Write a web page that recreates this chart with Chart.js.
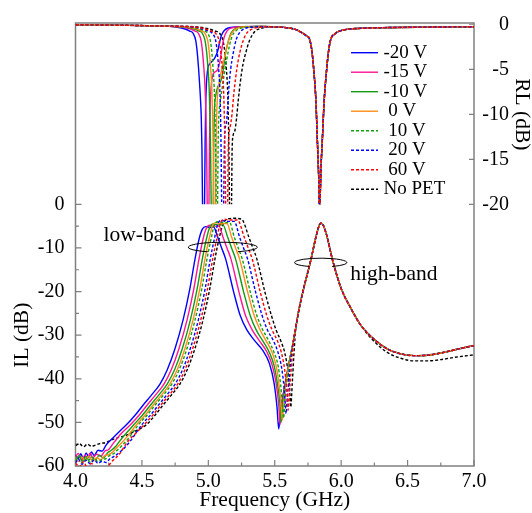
<!DOCTYPE html>
<html>
<head>
<meta charset="utf-8">
<script src="https://cdn.jsdelivr.net/npm/chart.js@4.4.0/dist/chart.umd.min.js"></script>
<style>
  body { margin: 0; background: #fff; }
  #chart { display: block; }
</style>
</head>
<body>
<canvas id="chart" width="532" height="513"></canvas>
<script>
// ---- tick labels ----
const freqTicks = [4.0, 4.5, 5.0, 5.5, 6.0, 6.5, 7.0];
const freqMinorTicks = [4.25, 4.75, 5.25, 5.75, 6.25, 6.75];
const ilTicks = [0, -10, -20, -30, -40, -50, -60];
const ilMinorTicks = [-5, -15, -25, -35, -45, -55];
const rlTicks = [0, -5, -10, -15, -20];

const seriesLabels = ['-20 V', '-15 V', '-10 V', ' 0 V', ' 10 V', ' 20 V', ' 60 V', 'No PET'];

// ---- IL (dB), low band part, one pair per bias ----
const ilM20Freq = [4.00,4.02,4.04,4.06,4.08,4.10,4.12,4.14,4.17,4.20,4.23,4.26,4.30,4.34,4.385,4.45,4.51,4.57,4.636,4.69,4.75,4.81,4.86,4.90,4.93,4.955,4.98,5.01,5.04,5.07,5.10,5.13,5.19,5.24,5.29,5.35,5.41,5.46,5.495,5.517,5.53,5.545,5.57,5.60];
const ilM20 = [-57.4,-58.3,-57.2,-58.4,-57.0,-58.0,-56.8,-57.6,-56.4,-56.6,-55.2,-54.2,-53.0,-51.8,-50.5,-48.3,-46,-43.8,-41.2,-38,-33,-26.5,-19.5,-12.5,-8,-5.7,-5.1,-5.3,-5.2,-7.5,-10,-12.5,-20,-25.5,-28.8,-31.3,-33.5,-36.5,-41,-46.5,-51.5,-47,-42.5,-37.5];

const ilM15Freq = [4.00,4.02,4.05,4.07,4.09,4.11,4.13,4.16,4.19,4.22,4.25,4.28,4.31,4.35,4.415,4.48,4.54,4.60,4.666,4.72,4.78,4.84,4.89,4.93,4.96,4.985,5.01,5.045,5.08,5.11,5.14,5.17,5.23,5.28,5.33,5.385,5.44,5.48,5.51,5.53,5.54,5.555,5.58,5.61];
const ilM15 = [-58.0,-57.1,-58.6,-57.5,-58.2,-57.0,-58.1,-57.3,-57.8,-56.6,-56.2,-55.0,-53.8,-52.4,-50.5,-48.3,-46,-43.8,-41.2,-38,-33,-26.5,-19.5,-12.5,-8,-5.5,-4.8,-5.0,-5.0,-7.5,-10,-12.5,-20,-25.5,-28.8,-31.3,-33.8,-36.8,-41,-46,-50.5,-46,-41,-36];

const ilM10Freq = [4.00,4.03,4.05,4.08,4.10,4.12,4.15,4.18,4.21,4.24,4.27,4.30,4.33,4.37,4.44,4.505,4.565,4.625,4.69,4.745,4.805,4.865,4.915,4.955,4.985,5.01,5.035,5.07,5.11,5.145,5.175,5.205,5.265,5.315,5.36,5.41,5.46,5.495,5.522,5.54,5.548,5.562,5.585,5.612];
const ilM10 = [-58.5,-57.6,-58.9,-57.8,-58.7,-57.9,-58.6,-57.5,-58.2,-57.0,-56.4,-55.6,-54.4,-52.9,-50.5,-48.3,-46,-43.8,-41.2,-38,-33,-26.5,-19.5,-12.5,-8,-5.3,-4.5,-4.7,-4.7,-7.5,-10,-12.5,-20,-25.5,-28.8,-31.3,-34,-37,-41.5,-46,-50,-45.5,-40.5,-35.7];

const il0Freq = [4.00,4.02,4.05,4.07,4.10,4.13,4.16,4.19,4.22,4.25,4.28,4.31,4.35,4.39,4.46,4.525,4.585,4.645,4.71,4.765,4.825,4.885,4.935,4.975,5.005,5.03,5.055,5.095,5.14,5.175,5.205,5.235,5.295,5.345,5.39,5.435,5.48,5.51,5.533,5.548,5.556,5.57,5.59,5.615];
const il0 = [-58.2,-59.0,-58.0,-58.8,-57.7,-58.9,-58.1,-58.6,-57.6,-57.4,-56.8,-55.8,-54.6,-53.2,-50.5,-48.3,-46,-43.8,-41.2,-38,-33,-26.5,-19.5,-12.5,-8,-5.0,-4.2,-4.4,-4.4,-7.5,-10,-12.5,-20,-25.5,-28.8,-31.3,-34,-37,-41.5,-46,-49.5,-45,-40,-35.5];

const il10Freq = [4.00,4.03,4.05,4.08,4.11,4.14,4.17,4.20,4.23,4.26,4.29,4.32,4.36,4.40,4.475,4.54,4.60,4.66,4.725,4.78,4.84,4.90,4.95,4.99,5.02,5.045,5.07,5.11,5.16,5.195,5.225,5.255,5.315,5.365,5.41,5.455,5.495,5.525,5.545,5.558,5.566,5.578,5.595,5.618];
const il10 = [-58.8,-58.0,-59.3,-58.4,-59.1,-58.2,-59.0,-58.5,-58.3,-57.5,-57.1,-56.2,-55.0,-53.6,-50.5,-48.3,-46,-43.8,-41.2,-38,-33,-26.5,-19.5,-12.5,-8,-4.8,-4.0,-4.2,-4.2,-7.5,-10,-12.5,-20,-25.5,-28.8,-31.3,-34,-37,-41.5,-46,-49,-44.5,-40,-35.2];

const il20Freq = [4.00,4.02,4.05,4.08,4.11,4.14,4.17,4.20,4.23,4.26,4.29,4.33,4.37,4.42,4.50,4.565,4.625,4.685,4.75,4.805,4.865,4.925,4.975,5.015,5.045,5.07,5.095,5.14,5.195,5.235,5.265,5.295,5.355,5.405,5.445,5.49,5.525,5.552,5.57,5.58,5.585,5.595,5.608,5.625];
const il20 = [-59.3,-58.4,-59.6,-58.7,-59.5,-58.6,-59.4,-58.9,-59.2,-58.3,-57.8,-56.9,-55.8,-54.0,-50.5,-48.3,-46,-43.8,-41.2,-38,-33,-26.5,-19.5,-12.5,-8,-4.6,-3.7,-3.9,-3.9,-7.5,-10,-12.5,-20,-25.5,-28.8,-31.3,-34,-37.5,-42,-46,-48,-44,-40,-34.5];

const il60Freq = [4.00,4.03,4.06,4.09,4.12,4.15,4.18,4.21,4.24,4.28,4.335,4.39,4.46,4.518,4.583,4.643,4.703,4.769,4.823,4.883,4.943,4.993,5.033,5.063,5.09,5.12,5.165,5.22,5.27,5.30,5.33,5.39,5.44,5.48,5.52,5.55,5.575,5.59,5.597,5.60,5.61,5.62,5.632];
const il60 = [-59.3,-60.2,-59.0,-60.5,-59.4,-60.6,-60.3,-61,-60.2,-58.8,-57.1,-54.5,-52.3,-50.5,-48.3,-46,-43.8,-41.2,-38,-33,-26.5,-19.5,-12.5,-8,-4.4,-3.4,-3.6,-3.6,-7.5,-10,-12.5,-20,-25.5,-28.8,-31.3,-34,-38,-42.5,-45.5,-47.2,-43,-39.5,-34.5];

const ilNoPetFreq = [4.00,4.03,4.06,4.09,4.12,4.15,4.19,4.23,4.27,4.31,4.38,4.45,4.535,4.60,4.66,4.72,4.786,4.84,4.90,4.96,5.01,5.05,5.08,5.11,5.15,5.19,5.25,5.305,5.335,5.365,5.425,5.475,5.51,5.545,5.575,5.598,5.612,5.62,5.632,5.645];
const ilNoPet = [-55.3,-54.9,-55.6,-55.0,-55.5,-55.2,-54.8,-54.6,-54.0,-53.6,-53.0,-52.0,-50.5,-48.3,-46,-43.8,-41.2,-38,-33,-26.5,-19.5,-12.5,-8,-4.6,-3.3,-3.2,-3.4,-7.5,-10,-12.5,-20,-25.5,-28.8,-31.3,-34,-38,-42.5,-46.5,-41,-34];

// IL high band (all biases overlap), then the tail
const ilHighFreq = [5.64,5.66,5.68,5.72,5.77,5.81,5.835,5.848,5.865,5.89,5.937,6.0,6.067,6.15];
const ilHigh = [-31.5,-28,-24.5,-19,-13,-7.5,-4.8,-4.3,-4.8,-7,-13,-19.3,-23.5,-27.8];
const ilTailFreq = [6.25,6.35,6.45,6.55,6.65,6.75,6.85,6.95,7.0];
const ilTail = [-31,-33.2,-34.3,-34.7,-34.6,-34.1,-33.4,-32.7,-32.4];
const ilNoPetTail = [-31.5,-34,-35.3,-35.9,-35.9,-35.6,-35.1,-34.7,-34.5];

// ---- RL (dB) ----
const rlLowFreq = [4.0,4.2,4.4,4.55,4.65];
const rlLow = [-0.05,-0.08,-0.12,-0.16,-0.2];

const rlM20Freq = [4.75,4.82,4.86,4.885,4.905,4.917,4.927,4.935,4.942,4.947,4.952,4.956,4.964,4.972,4.976,4.98,4.986,4.995,5.01,5.03,5.05,5.07,5.085,5.1,5.12,5.15,5.25,5.4];
const rlM20 = [-0.3,-0.5,-0.75,-1.0,-1.8,-3.2,-5.0,-6.8,-8.6,-10.4,-14,-19.5,-28,-19.5,-13,-9,-6.5,-5.0,-4.4,-4.1,-3.7,-3.0,-2.0,-1.2,-0.7,-0.42,-0.27,-0.25];

const rlM15Freq = [4.8,4.86,4.9,4.925,4.945,4.957,4.967,4.975,4.982,4.987,4.991,4.998,5.005,5.009,5.014,5.022,5.035,5.05,5.068,5.085,5.1,5.118,5.14,5.17,5.25,5.4];
const rlM15 = [-0.3,-0.5,-0.75,-1.0,-1.8,-3.2,-5.0,-7.0,-10,-14,-19.5,-28,-19.5,-13,-9,-6.8,-5.6,-5.3,-5.1,-4.3,-2.9,-1.5,-0.75,-0.42,-0.27,-0.25];

const rlM10Freq = [4.82,4.89,4.93,4.955,4.975,4.988,4.998,5.006,5.012,5.017,5.021,5.029,5.037,5.041,5.046,5.055,5.07,5.085,5.1,5.115,5.13,5.15,5.17,5.2,5.28,5.4];
const rlM10 = [-0.3,-0.5,-0.75,-1.0,-1.8,-3.2,-5.0,-7.0,-10,-14,-19.5,-28,-19.5,-13,-9.5,-8,-7.0,-6.6,-6.0,-4.8,-3.2,-1.9,-1.0,-0.5,-0.28,-0.25];

const rl0Freq = [4.84,4.91,4.95,4.975,4.995,5.008,5.018,5.026,5.032,5.037,5.041,5.048,5.055,5.059,5.064,5.072,5.085,5.1,5.12,5.14,5.16,5.185,5.22,5.3,5.4];
const rl0 = [-0.3,-0.5,-0.75,-1.0,-1.8,-3.2,-5.0,-7.0,-10,-14,-19.5,-28,-19.5,-13,-9.5,-7.5,-6.2,-5.0,-3.8,-2.5,-1.5,-0.8,-0.42,-0.27,-0.25];

const rl10Freq = [4.86,4.93,4.97,4.995,5.015,5.027,5.036,5.044,5.05,5.055,5.059,5.064,5.07,5.074,5.08,5.09,5.105,5.12,5.14,5.16,5.18,5.21,5.25,5.32,5.4];
const rl10 = [-0.3,-0.5,-0.75,-1.0,-1.8,-3.2,-5.0,-7.0,-10,-14,-19.5,-28,-19.5,-13,-10,-8.6,-7.0,-5.5,-3.8,-2.3,-1.3,-0.7,-0.4,-0.27,-0.25];

const rl20Freq = [4.88,4.95,5.0,5.03,5.055,5.068,5.078,5.086,5.092,5.096,5.1,5.108,5.116,5.12,5.126,5.135,5.145,5.155,5.168,5.185,5.21,5.24,5.28,5.35,5.45];
const rl20 = [-0.3,-0.5,-0.75,-1.0,-1.8,-3.2,-5.0,-7.0,-10,-14,-19.5,-28,-19.5,-14,-11.8,-11,-9.5,-7.0,-5.0,-3.4,-1.7,-0.85,-0.45,-0.3,-0.27];

const rl60Freq = [4.9,4.97,5.02,5.055,5.08,5.095,5.106,5.114,5.12,5.125,5.13,5.138,5.146,5.15,5.157,5.167,5.178,5.19,5.205,5.225,5.25,5.28,5.32,5.38,5.45];
const rl60 = [-0.3,-0.5,-0.75,-1.0,-1.8,-3.2,-5.0,-7.0,-10,-14,-19.5,-28,-19.5,-14,-12,-11.2,-10,-8,-6,-4,-2.4,-1.2,-0.6,-0.35,-0.28];

const rlNoPetFreq = [4.92,5.0,5.05,5.085,5.11,5.125,5.136,5.144,5.15,5.155,5.159,5.167,5.175,5.179,5.187,5.2,5.212,5.225,5.24,5.26,5.285,5.31,5.35,5.4,5.45];
const rlNoPet = [-0.3,-0.5,-0.75,-1.0,-1.8,-3.2,-5.0,-7.0,-10,-14,-19.5,-28,-19.5,-14,-12.3,-11.8,-10.5,-8.5,-6.5,-4.5,-3.0,-1.8,-0.8,-0.45,-0.3];

const rlHighFreq = [5.5,5.6,5.66,5.7,5.74,5.762,5.78,5.795,5.81,5.82,5.83,5.838,5.848,5.859,5.872,5.889,5.905,5.922,5.95,5.98,6.05,6.15,6.3,6.6,7.0];
const rlHigh = [-0.3,-0.4,-0.6,-0.9,-1.3,-1.65,-3.0,-5.3,-8.5,-12.6,-16.5,-20.5,-16,-12.6,-8.5,-5.3,-3.0,-1.65,-1.1,-0.8,-0.55,-0.45,-0.38,-0.32,-0.28];

// ---- styles ----
const colors = ['#0000ff', '#ff1493', '#139a13', '#ff8c1a', '#11a011', '#0000ff', '#ff0000', '#000000'];
const dashed = [false, false, false, false, true, true, true, true];
const frameColor = '#808080';
const serif = '"Liberation Serif", "Times New Roman", serif';

const ilFreqs = [ilM20Freq, ilM15Freq, ilM10Freq, il0Freq, il10Freq, il20Freq, il60Freq, ilNoPetFreq];
const ilVals = [ilM20, ilM15, ilM10, il0, il10, il20, il60, ilNoPet];
const rlFreqs = [rlM20Freq, rlM15Freq, rlM10Freq, rl0Freq, rl10Freq, rl20Freq, rl60Freq, rlNoPetFreq];
const rlVals = [rlM20, rlM15, rlM10, rl0, rl10, rl20, rl60, rlNoPet];

function pts(f, v) {
  return f.map((x, i) => ({x: x, y: v[i]}));
}

const ilSets = [];
const rlSets = [];
seriesLabels.forEach((label, i) => {
  const noPet = i === 7;
  let il = pts(ilFreqs[i], ilVals[i]);
  if (noPet) {
    il = il.concat(pts(ilHighFreq.slice(1), ilHigh.slice(1)), pts(ilTailFreq, ilNoPetTail));
  } else {
    il = il.concat(pts(ilHighFreq, ilHigh), pts(ilTailFreq, ilTail));
  }
  const rl = pts(rlLowFreq, rlLow).concat(pts(rlFreqs[i], rlVals[i]), pts(rlHighFreq, rlHigh));
  const style = {
    borderColor: colors[i],
    borderWidth: 1.4,
    borderDash: dashed[i] ? [3, 2] : [],
    pointRadius: 0,
    fill: false,
    cubicInterpolationMode: 'monotone',
    order: noPet ? 9 : 8 - i
  };
  ilSets.push(Object.assign({label: label, data: il, yAxisID: 'yIL'}, style));
  rlSets.push(Object.assign({label: label + ' RL', data: rl, yAxisID: 'yRL'}, style));
});

// frame, inward ticks, RL clipping, legend, notes
const decor = {
  id: 'decor',
  beforeDatasetsDraw(chart) {
    const {ctx, chartArea: a} = chart;
    const {x, yIL, yRL} = chart.scales;
    ctx.save();
    ctx.strokeStyle = frameColor;
    ctx.lineWidth = 1.5;
    ctx.strokeRect(a.left, a.top, a.right - a.left, a.bottom - a.top);
    ctx.lineWidth = 1.2;
    ctx.beginPath();
    freqTicks.forEach(v => { const p = x.getPixelForValue(v); ctx.moveTo(p, a.bottom); ctx.lineTo(p, a.bottom - 6); });
    freqMinorTicks.forEach(v => { const p = x.getPixelForValue(v); ctx.moveTo(p, a.bottom); ctx.lineTo(p, a.bottom - 3.5); });
    ilTicks.forEach(v => { const p = yIL.getPixelForValue(v); ctx.moveTo(a.left, p); ctx.lineTo(a.left + 6, p); });
    ilMinorTicks.forEach(v => { const p = yIL.getPixelForValue(v); ctx.moveTo(a.left, p); ctx.lineTo(a.left + 3.5, p); });
    rlTicks.forEach(v => { const p = yRL.getPixelForValue(v); ctx.moveTo(a.right, p); ctx.lineTo(a.right - 5, p); });
    ctx.stroke();
    ctx.restore();
  },
  beforeDatasetDraw(chart, args) {
    if (args.meta.yAxisID !== 'yRL') return;
    const {ctx, chartArea: a} = chart;
    const floor = chart.scales.yRL.getPixelForValue(-20);
    ctx.save();
    ctx.beginPath();
    ctx.rect(a.left, 0, a.right - a.left, floor);
    ctx.clip();
  },
  afterDatasetDraw(chart, args) {
    if (args.meta.yAxisID === 'yRL') chart.ctx.restore();
  },
  afterDraw(chart) {
    const {ctx, chartArea: a} = chart;
    const {x, yIL, yRL} = chart.scales;
    ctx.save();
    // legend
    ctx.font = '19px ' + serif;
    ctx.textBaseline = 'middle';
    ctx.textAlign = 'left';
    ilSets.forEach((ds, i) => {
      const y = a.top + 29.7 + i * 19.5;
      ctx.strokeStyle = ds.borderColor;
      ctx.lineWidth = 1.4;
      ctx.setLineDash(ds.borderDash);
      ctx.beginPath();
      ctx.moveTo(a.right - 123, y);
      ctx.lineTo(a.right - 96, y);
      ctx.stroke();
      ctx.fillStyle = '#000';
      ctx.fillText(ds.label, a.right - 90.5, y);
    });
    ctx.setLineDash([]);
    // band notes
    ctx.font = '21.5px ' + serif;
    ctx.textBaseline = 'alphabetic';
    ctx.fillText('low-band', x.getPixelForValue(4.211), yIL.getPixelForValue(-8.48));
    ctx.fillText('high-band', x.getPixelForValue(6.069), yIL.getPixelForValue(-17.35));
    ctx.strokeStyle = '#000';
    ctx.lineWidth = 1;
    const ring = (fc, vc, fr, vr) => {
      const cx = x.getPixelForValue(fc);
      const cy = yIL.getPixelForValue(vc);
      const rx = x.getPixelForValue(fc + fr) - cx;
      const ry = yIL.getPixelForValue(vc - vr) - cy;
      ctx.beginPath();
      ctx.ellipse(cx, cy, rx, ry, 0, Math.PI / 2 + 0.45, Math.PI * 2.5 - 0.45);
      ctx.stroke();
    };
    ring(5.109, -9.84, 0.26, 1.15);
    ring(5.846, -13.35, 0.197, 1.0);
    // axis titles
    ctx.font = '21.5px ' + serif;
    ctx.textAlign = 'center';
    ctx.textBaseline = 'middle';
    ctx.save();
    ctx.translate(a.left - 53.5, yIL.getPixelForValue(-30));
    ctx.rotate(-Math.PI / 2);
    ctx.fillText('IL (dB)', 0, 0);
    ctx.restore();
    ctx.save();
    ctx.translate(a.right + 47.5, yRL.getPixelForValue(-10));
    ctx.rotate(Math.PI / 2);
    ctx.fillText('RL (dB)', 0, 0);
    ctx.restore();
    ctx.restore();
  }
};

const tickFont = {family: serif, size: 20};

new Chart(document.getElementById('chart').getContext('2d'), {
  type: 'line',
  data: { datasets: ilSets.concat(rlSets) },
  options: {
    responsive: false,
    animation: false,
    layout: { padding: { top: 17, left: 0, right: 23, bottom: 0 } },
    plugins: { legend: { display: false }, tooltip: { enabled: false } },
    scales: {
      x: {
        type: 'linear', min: 4, max: 7, position: 'bottom',
        afterBuildTicks: s => { s.ticks = freqTicks.map(v => ({value: v})); },
        afterFit: s => { s.height = 47; },
        grid: { display: false, drawTicks: false },
        border: { display: false },
        ticks: { font: tickFont, color: '#000', padding: 4, maxRotation: 0, autoSkip: false, callback: v => v.toFixed(1) },
        title: { display: true, text: 'Frequency (GHz)', color: '#000', font: {family: serif, size: 21.5}, padding: {top: 0, bottom: 0} }
      },
      yIL: {
        type: 'linear', position: 'left', min: -60, max: 41.58,
        afterBuildTicks: s => { s.ticks = ilTicks.map(v => ({value: v})); },
        afterFit: s => { s.width = 75.5; },
        grid: { display: false, drawTicks: false },
        border: { display: false },
        ticks: { font: tickFont, color: '#000', padding: 11, autoSkip: false, callback: v => String(v) }
      },
      yRL: {
        type: 'linear', position: 'right', min: -49.06, max: 0.14,
        afterBuildTicks: s => { s.ticks = rlTicks.map(v => ({value: v})); },
        afterFit: s => { s.width = 35; },
        grid: { display: false, drawTicks: false },
        border: { display: false },
        ticks: { font: tickFont, color: '#000', padding: 6, crossAlign: 'far', autoSkip: false, callback: v => String(v) }
      }
    }
  },
  plugins: [decor]
});
</script>
</body>
</html>
